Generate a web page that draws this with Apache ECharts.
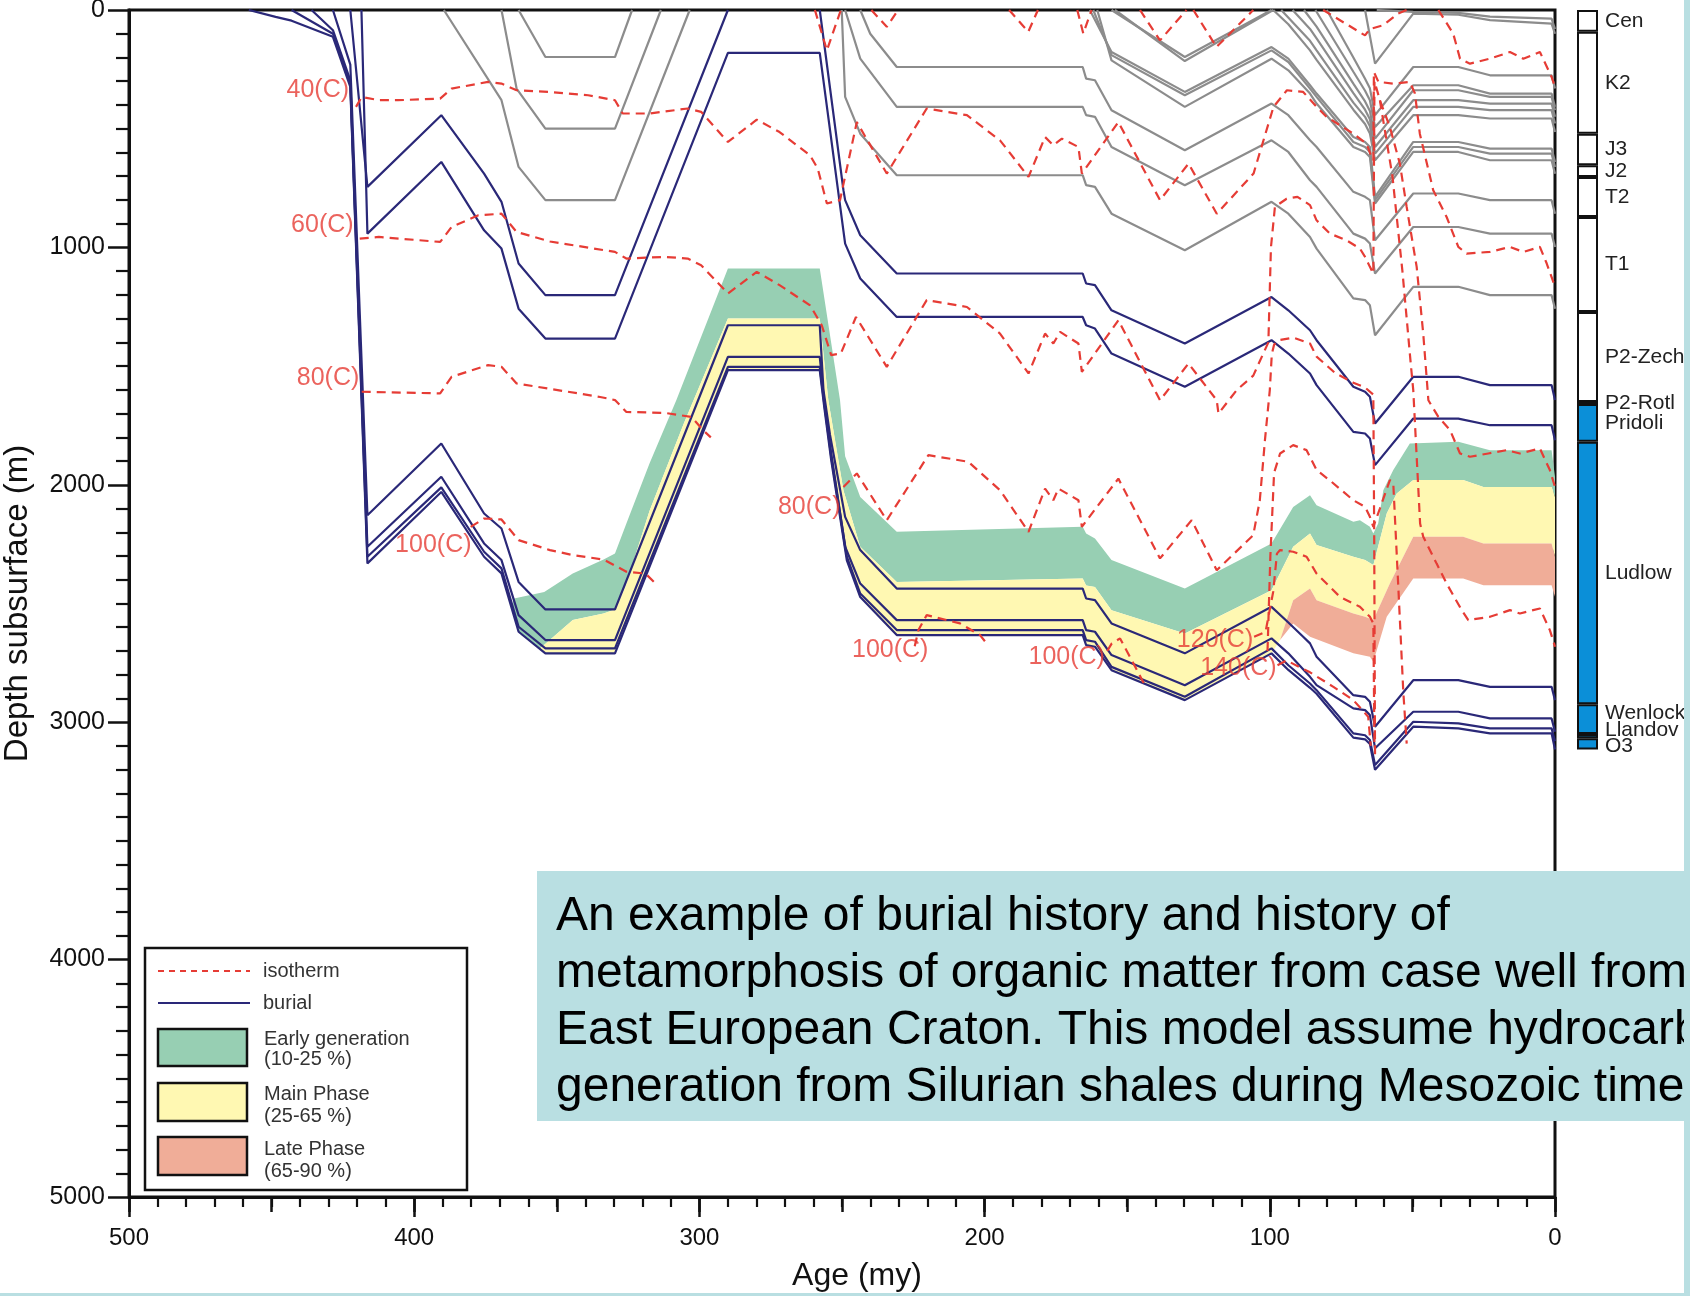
<!DOCTYPE html>
<html>
<head>
<meta charset="utf-8">
<script src="https://cdn.jsdelivr.net/npm/echarts/dist/echarts.min.js"></script>
<style>
  html, body { margin: 0; padding: 0; background: #fff; }
  #main { width: 1690px; height: 1296px; }
</style>
</head>
<body>
<div id="main"></div>
<script>
// ---- burial horizons [age (my), depth (m)] ----
var burialX1 = [[422.4,0],[416.4,745],[390.5,443],[375.5,689],[369.4,808],[363.4,1068],[354,1201],[329.6,1201],[290,0]];
var burialX2 = [[418.5,0],[416.4,942],[390.5,640],[375.5,928],[369.4,1005],[363.4,1258],[354,1384],[329.6,1384],[290,181],[257.8,181],[249.5,930],[248.9,984],[243.6,1131],[230.8,1293],[165.6,1293],[164.4,1328],[161.3,1342],[155.5,1447],[129.8,1587],[99.4,1391],[93.5,1447],[85.9,1531],[83.6,1580],[70.7,1777],[66.6,1784],[64.9,1805],[63.1,1917],[49.7,1721],[33.9,1721],[22.8,1749],[1.2,1749],[0,1812]];
var burialX3 = [[257.8,0],[249.5,759],[248.9,801],[243.6,949],[230.8,1110],[165.6,1110],[164.4,1152],[161.3,1159],[155.5,1265],[129.8,1405],[99.4,1209],[93.5,1265],[85.9,1349],[83.6,1391],[70.7,1587],[66.6,1608],[64.9,1629],[63.1,1742],[49.7,1545],[33.9,1545],[22.8,1580],[1.2,1580],[0,1643]];
var burialLudlow = [[428.5,0],[422.4,230],[416.4,2128],[390.5,1826],[375.5,2121],[369.4,2184],[363.4,2409],[354,2525],[329.6,2525],[290,1328],[257.8,1328],[256.5,1601],[254.2,1790],[248.9,2135],[243.6,2275],[230.8,2437],[165.6,2437],[164.4,2479],[161.3,2486],[155.5,2584],[129.8,2710],[99.4,2514],[93.5,2580],[88.3,2640],[85.9,2668],[83.6,2724],[70.7,2886],[66.6,2893],[64.9,2914],[63.1,3019],[49.7,2823],[33.9,2823],[22.8,2851],[1.2,2851],[0,2907]];
var burialWenlock = [[436,0],[428.5,85],[422.4,296],[416.4,2261],[390.5,1966],[375.5,2247],[369.4,2317],[363.4,2549],[354,2654],[329.6,2654],[290,1461],[257.8,1461],[256.3,1640],[254,1850],[248.9,2261],[243.6,2416],[230.8,2570],[165.6,2570],[164.4,2612],[161.3,2619],[155.5,2717],[129.8,2844],[99.4,2647],[93.5,2710],[85.9,2809],[83.6,2844],[70.7,2942],[66.6,2949],[64.9,2970],[63.1,3110],[49.7,2956],[33.9,2956],[22.8,2984],[1.2,2984],[0,3040]];
var burialLlandov = [[443,0],[428.5,100],[422.4,310],[416.4,2303],[390.5,2011],[375.5,2282],[369.4,2352],[363.4,2598],[354,2689],[329.6,2689],[290,1503],[257.8,1503],[256.2,1660],[253.8,1880],[248.3,2303],[243.6,2458],[230.8,2612],[165.6,2612],[164.4,2654],[161.3,2661],[155.5,2767],[129.8,2893],[99.4,2689],[93.5,2760],[85.9,2837],[83.6,2865],[70.7,3047],[66.6,3055],[64.9,3075],[63.1,3180],[49.7,2998],[33.9,3005],[22.8,3026],[1.2,3026],[0,3080]];
var burialO3 = [[458,0],[448.6,29],[443,45],[428.5,113],[422.4,324],[416.4,2331],[390.5,2030],[375.5,2303],[369.4,2373],[363.4,2619],[354,2710],[329.6,2710],[290,1517],[257.8,1517],[256.2,1675],[253.8,1895],[248.3,2318],[243.6,2473],[230.8,2633],[165.6,2633],[164.4,2675],[161.3,2682],[155.5,2781],[129.8,2907],[99.4,2710],[93.5,2780],[85.9,2855],[83.6,2880],[70.7,3065],[66.6,3072],[64.9,3092],[63.1,3200],[49.7,3019],[33.9,3026],[22.8,3047],[1.2,3047],[0,3115]];

// ---- eroded / younger horizons (grey) ----
var grayDev1 = [[389.6,0],[369.4,380],[363.4,661],[354,801],[329.6,801],[303.4,0]];
var grayDev2 = [[369.4,0],[364.1,331],[354,500],[329.6,500],[313.5,0]];
var grayDev3 = [[363.4,0],[354,198],[329.6,198],[323.6,0]];
var grayT1 = [[250.1,0],[248.9,366],[243.6,521],[230.8,696],[165.6,696],[164.4,738],[161.3,745],[155.5,858],[129.8,1012],[99.4,808],[93.5,858],[85.9,956],[83.6,1005],[70.7,1215],[66.6,1222],[64.9,1244],[63.1,1370],[49.7,1166],[33.9,1166],[22.8,1201],[1.2,1201],[0,1258]];
var grayT1b = [[248.9,0],[243.6,205],[230.8,408],[165.6,408],[164.4,443],[161.3,450],[155.5,577],[129.8,738],[99.4,549],[93.5,598],[85.9,717],[83.6,745],[70.7,942],[66.6,963],[64.9,984],[63.1,1110],[49.7,914],[33.9,914],[22.8,942],[1.2,942],[0,998]];
var grayT2 = [[243.6,0],[240.1,100],[230.8,240],[165.6,240],[164.4,289],[161.3,296],[155.5,422],[129.8,591],[99.4,394],[93.5,443],[85.9,549],[83.6,577],[70.7,766],[66.6,787],[64.9,801],[63.1,970],[49.7,773],[33.9,773],[22.8,801],[1.2,801],[0,858]];
var grayJ1 = [[163.1,0],[155.5,177],[129.8,345],[99.4,156],[93.5,205],[85.9,317],[83.6,352],[70.7,535],[66.6,556],[64.9,577],[63.1,787],[49.7,556],[33.9,556],[22.8,584],[1.2,584],[0,640]];
var grayJ2 = [[161.9,0],[155.5,190],[129.8,359],[99.4,170],[93.5,219],[85.9,331],[83.6,366],[70.7,556],[66.6,577],[64.9,598],[63.1,801],[49.7,577],[33.9,577],[22.8,605],[1.2,605],[0,661]];
var grayJ3 = [[160.5,0],[155.5,212],[129.8,408],[99.4,205],[93.5,254],[85.9,352],[83.6,394],[70.7,577],[66.6,598],[64.9,619],[63.1,815],[49.7,598],[33.9,598],[22.8,633],[1.2,633],[0,690]];
var grayJ4 = [[155.5,0],[129.8,198],[99.4,0]];
var grayJ5 = [[154.3,0],[129.8,215],[98.8,0]];
var grayK1 = [[98.8,0],[93.5,60],[85.9,170],[83.6,210],[70.7,420],[66.6,480],[64.9,520],[63.1,633],[49.7,443],[33.9,443],[22.8,457],[1.2,457],[0,514]];
var grayK2 = [[96,0],[85.9,130],[83.6,170],[70.7,390],[66.6,450],[64.9,490],[63.1,605],[49.7,408],[33.9,408],[22.8,422],[1.2,422],[0,478]];
var grayK3 = [[92,0],[85.9,80],[83.6,120],[70.7,350],[66.6,420],[64.9,460],[63.1,577],[49.7,380],[33.9,380],[22.8,394],[1.2,394],[0,450]];
var grayK4 = [[88,0],[83.6,70],[70.7,310],[66.6,385],[64.9,425],[63.1,542],[49.7,338],[33.9,338],[22.8,366],[1.2,366],[0,422]];
var grayK5 = [[84,0],[70.7,260],[66.6,340],[64.9,380],[63.1,493],[49.7,317],[33.9,317],[22.8,352],[1.2,352],[0,408]];
var grayK6 = [[80,0],[70.7,200],[66.6,290],[64.9,330],[63.1,443],[49.7,240],[33.9,240],[22.8,275],[1.2,275],[0,331]];
var grayCen1 = [[66.6,0],[63.1,226],[49.7,15],[33.9,20],[22.8,43],[1.2,57],[0,100]];
var grayCen2 = [[62.5,0],[49.7,8],[33.9,12],[22.8,28],[1.2,36],[0,80]];

// ---- maturity zone boundaries ----
var greenTop = [[365.4,2480],[354.4,2452],[344.4,2374],[333.6,2315],[329.6,2289],[325.6,2163],[317.5,1910],[308.1,1644],[290,1089],[257.8,1089],[250.7,1643],[248.9,1880],[243.6,2051],[230.8,2198],[165.6,2177],[164.4,2205],[161.3,2226],[155.5,2317],[129.8,2437],[99.4,2247],[91.8,2093],[85.9,2044],[83.6,2086],[70.7,2156],[68.4,2149],[64.9,2177],[63.7,2205],[62.0,2163],[60.2,2023],[56.7,1938],[50.9,1826],[33.9,1819],[22.8,1854],[1.2,1854],[0,1966]];
var yellowTop = [[356,2691],[344.4,2570],[333.6,2542],[329.6,2525],[326,2430],[317.5,2110],[305.4,1740],[290,1300],[257.8,1300],[254.8,1643],[249.5,2023],[243.6,2261],[230.8,2409],[165.6,2395],[164.4,2424],[161.3,2430],[155.5,2528],[129.8,2626],[99.4,2444],[91.8,2261],[85.9,2205],[83.6,2254],[70.7,2303],[66.6,2317],[63.7,2338],[59.0,2121],[55.5,2037],[49.7,1980],[32.2,1980],[25.1,2009],[1.2,2009],[0,2051]];
var salmonTop = [[96.4,2654],[91.8,2486],[85.9,2437],[83.6,2486],[70.7,2542],[66.6,2556],[63.7,2570],[57.9,2416],[49.7,2219],[32.2,2219],[25.1,2247],[1.2,2247],[0,2303]];
var salmonBottom = [[96.4,2654],[91.8,2584],[85.9,2640],[70.7,2710],[64.9,2724],[63.7,2745],[59.0,2556],[49.7,2395],[32.2,2395],[25.1,2423],[1.2,2423],[0,2472]];

// ---- isotherms ----
var iso20 = [
  [[259.5,0],[255.3,170],[250.4,0]],
  [[239.7,0],[234.3,71],[230.3,0]],
  [[191.4,0],[184.7,92],[181.3,0]],
  [[167.5,0],[165.4,99],[162.5,0]],
  [[145.5,0],[138.5,128],[129.2,0]],
  [[126.8,0],[118.7,156],[105.8,0]],
  [[81.3,0],[66.6,107],[64.9,80],[60.2,64],[55,15],[52,0]],
  [[40.9,0],[35.7,99],[33.3,205],[29.8,226],[22.8,205],[15.8,177],[11.1,205],[5.3,177],[1.2,282],[0,324]]
];
var iso40 = [[420.4,408],[418.4,366],[412.4,380],[405.7,380],[390.9,373],[386.9,331],[374.1,303],[369.4,310],[364.1,338],[352.7,345],[339,359],[329.6,380],[326.9,436],[317.5,436],[304.1,415],[299.4,429],[290,556],[279.9,462],[271.9,514],[261.2,612],[258.5,668],[255.3,815],[250.7,801],[244.8,472],[234.3,689],[220.3,415],[206.2,443],[194.6,549],[184.6,703],[178.8,535],[175.9,570],[172.9,542],[167.1,577],[165.9,689],[153.1,472],[138.5,801],[128.5,647],[118.6,858],[105.7,689],[98.7,408],[94.0,338],[88.3,345],[83.6,408],[80.1,450],[70.7,521],[66.1,563],[64.3,619],[63.7,633],[63.5,261],[61.9,303],[56.7,310],[50.9,303],[49.1,352],[47.4,521],[42.7,759],[38.0,872],[33.9,998],[31.0,1026],[22.8,1019],[15.8,998],[11.1,1019],[5.3,998],[2.9,1068],[0,1166]];
var iso60 = [[419.1,963],[412.4,956],[390.9,977],[386.9,914],[377.5,865],[369.4,858],[364.1,935],[352.4,975],[329.6,1019],[325.6,1047],[312.1,1040],[304.1,1047],[299.4,1075],[290,1194],[279.9,1103],[271.9,1159],[261.2,1244],[257.1,1328],[253.8,1454],[250.4,1447],[245.1,1293],[234.3,1503],[220.3,1222],[206.2,1251],[194.6,1363],[184.6,1531],[178.8,1363],[175.9,1405],[173.5,1356],[167.1,1405],[165.9,1524],[153.1,1307],[138.5,1644],[128.5,1489],[118.6,1644],[118.0,1700],[111.6,1601],[105.8,1540],[100.5,1400],[99.6,1000],[98.2,829],[94.1,795],[90.3,787],[85.9,822],[83.6,886],[78.9,942],[73.1,970],[68.4,1005],[66.6,1040],[64.9,1082],[63.7,1110],[63.3,300],[61.4,380],[57.9,493],[54.4,647],[52.0,830],[48.5,1082],[46.2,1363],[44.4,1644],[40.9,1714],[36.8,1770],[33.3,1868],[29.8,1882],[23.4,1868],[17.0,1854],[12.3,1868],[5.3,1847],[1.8,1938],[0,2009]];
var iso80 = [
  [[418.4,1608],[390.9,1615],[386.9,1545],[374.1,1496],[369.4,1503],[364.1,1573],[334.8,1630],[329.6,1643],[325.6,1693],[312.1,1697],[302.8,1714],[298.7,1770],[296,1800]],
  [[249.5,2009],[244.8,1952],[234.3,2149],[219.7,1875],[205.7,1903],[194.6,2023],[184.6,2198],[178.8,2016],[175.9,2065],[174.1,2016],[167.1,2065],[165.9,2177],[153.1,1974],[138.5,2310],[127.4,2149],[118.6,2360],[105.8,2212],[103.5,2065],[101.7,1812],[100,1601],[99.3,1450],[98.5,1410],[96.4,1390],[91.8,1380],[85.9,1405],[83.6,1460],[77,1530],[70.7,1570],[66.6,1590],[63.7,1620],[63.4,2200],[63.1,3150]]
];
var iso100 = [
  [[380.2,2177],[375.5,2142],[369.4,2146],[363.4,2233],[352.4,2275],[344.4,2296],[333.6,2315],[325.6,2366],[318.9,2374],[315,2420]],
  [[224.5,2680],[223.2,2612],[220.3,2549],[208.6,2584],[201.6,2633],[199.5,2665]],
  [[157,2700],[155.4,2668],[152.5,2647],[146.6,2780],[144,2840]],
  [[100.8,2700],[99.8,2300],[98.5,1950],[96.4,1868],[91.8,1833],[87.1,1854],[83.6,1938],[79.1,1980],[70.7,2065],[66.6,2093],[64.9,2135],[63.7,2177],[61.4,2100],[57.9,1980],[56.7,1995],[54.9,2440],[53.2,2870],[52.0,3090]]
];
var iso120 = [[105.5,2640],[101.5,2620],[98.8,2450],[97.5,2290],[96.4,2275],[91.8,2282],[87.1,2303],[83.6,2374],[75.4,2472],[68.4,2514],[64.9,2556],[63.7,2584],[63.3,3100]];
var iso140 = [[97.3,2760],[94.1,2740],[85.9,2790],[77.7,2851],[70.7,2907],[65.5,2977],[64.6,3100]];
var isoLate = [[61.4,380],[57,700],[53.5,1100],[50.5,1500],[49.7,1601],[47.3,2163],[46.2,2219],[41.5,2332],[38.0,2416],[32.7,2528],[30.4,2570],[22.8,2556],[15.8,2528],[12.3,2542],[5.3,2521],[1.8,2612],[0,2682]];

var isoLabels = [['40(C)',433.8,338],['60(C)',432.2,907],['80(C)',430.2,1552],['100(C)',393.3,2254],['80(C)',261.5,2093],['100(C)',233.1,2696],['100(C)',171.2,2724],['120(C)',119.2,2654],['140(C)',111.0,2774]];

// ---- present-day stratigraphic column ----
var columnNames = ['Cen','K2','J3','J2','T2','T1','P2-Zech','P2-Rotl','Pridoli','Ludlow','Wenlock','Llandov','O3'];
var columnThick = [92,429,133,49,169,400,379,9,159,1105,126,18,47];
var columnBlue = [false,false,false,false,false,false,false,true,true,true,true,true,true];
var columnLabelShift = [0,0,0,0,0,0,0,0,0,0,-6,-6,2];

var FONT = "'Liberation Sans', Arial, Helvetica, sans-serif";
var NAVY = '#2a2878', GREY = '#8c8c8c', RED = '#e63c35';

function depthAt(line, age) {
  for (var i = 0; i < line.length - 1; i++) {
    var a = line[i], b = line[i + 1];
    if (age <= a[0] && age >= b[0]) {
      var t = (a[0] - age) / (a[0] - b[0]);
      return a[1] + t * (b[1] - a[1]);
    }
  }
  return null;
}
function piece(line, hi, lo) {
  var out = [[hi, depthAt(line, hi)]];
  line.forEach(function (p) { if (p[0] < hi && p[0] > lo) out.push(p); });
  out.push([lo, depthAt(line, lo)]);
  return out;
}

var greenBottom = piece(burialO3, 365.4, 356).concat(yellowTop.slice(1));
var yellowBottom = piece(burialO3, 356, 99.4).concat(salmonTop);
var greenPoly = greenTop.concat(greenBottom.slice().reverse());
var yellowPoly = yellowTop.concat(yellowBottom.slice().reverse());
var salmonPoly = salmonTop.concat(salmonBottom.slice().reverse());

function zone(points, color) {
  return {
    type: 'custom', xAxisIndex: 0, yAxisIndex: 0, silent: true, z: 1,
    data: [[points[0][0], points[0][1]]],
    renderItem: function (params, api) {
      var pts = points.map(function (p) { return api.coord(p); });
      return { type: 'polygon', shape: { points: pts }, style: { fill: color } };
    }
  };
}
function line(data, color, dashed, z) {
  return {
    type: 'line', xAxisIndex: 0, yAxisIndex: 0, data: data, symbol: 'none', silent: true, z: z,
    lineStyle: { color: color, width: 2.2, type: dashed ? [9, 6] : 'solid' }
  };
}

var series = [
  zone(greenPoly, '#97cfb3'),
  zone(yellowPoly, '#fff8b2'),
  zone(salmonPoly, '#f0ad98')
];
[grayDev1, grayDev2, grayDev3, grayT1, grayT1b, grayT2, grayJ1, grayJ2, grayJ3, grayJ4, grayJ5,
 grayK1, grayK2, grayK3, grayK4, grayK5, grayK6, grayCen1, grayCen2].forEach(function (d) {
  series.push(line(d, GREY, false, 2));
});
[burialX1, burialX2, burialX3, burialLudlow, burialWenlock, burialLlandov, burialO3].forEach(function (d) {
  series.push(line(d, NAVY, false, 3));
});
var isoAll = iso20.concat([iso40, iso60], iso80, iso100, [iso120, iso140, isoLate]);
isoAll.forEach(function (d) { series.push(line(d, RED, true, 4)); });

series.push({
  type: 'scatter', xAxisIndex: 0, yAxisIndex: 0, symbolSize: 1, silent: true, z: 5,
  itemStyle: { color: 'rgba(0,0,0,0)' },
  data: isoLabels.map(function (l) { return { value: [l[1], l[2]], name: l[0] }; }),
  label: { show: true, position: 'inside', formatter: '{b}', color: RED, fontSize: 25, fontFamily: FONT }
});

columnNames.forEach(function (n, i) {
  series.push({
    type: 'bar', xAxisIndex: 2, yAxisIndex: 1, stack: 'col', barWidth: 21, silent: true,
    data: [columnThick[i]],
    itemStyle: { color: columnBlue[i] ? '#0b8fd8' : '#ffffff', borderColor: '#111', borderWidth: 2 },
    label: { show: true, position: 'right', distance: 7, formatter: n, offset: [0, columnLabelShift[i]],
             color: '#222', fontSize: 21, fontFamily: FONT }
  });
});

var hiddenAxis = {
  axisLine: { show: false, onZero: false }, axisTick: { show: false },
  minorTick: { show: false }, axisLabel: { show: false }, splitLine: { show: false }
};

var chart = echarts.init(document.getElementById('main'), null, { renderer: 'canvas' });
chart.setOption({
  animation: false,
  backgroundColor: '#ffffff',
  grid: [
    { left: 129, right: 135, top: 10, bottom: 99, show: true, borderColor: '#111', borderWidth: 3,
      containLabel: false, outerBoundsMode: 'none' },
    { left: 1576, width: 23, top: 10, bottom: 99, containLabel: false, outerBoundsMode: 'none' }
  ],
  xAxis: [
    {
      gridIndex: 0, type: 'value', min: 0, max: 500, interval: 100, inverse: true, position: 'bottom',
      name: 'Age (my)', nameLocation: 'middle', nameGap: 63,
      nameTextStyle: { fontSize: 32, color: '#111', fontFamily: FONT, padding: [0, 0, 0, 30] },
      axisLine: { show: true, onZero: false, lineStyle: { color: '#111', width: 3 } },
      axisTick: { show: true, length: 20, lineStyle: { color: '#111', width: 2.5 } },
      minorTick: { show: true, splitNumber: 10, length: 10, lineStyle: { color: '#111', width: 2.2 } },
      axisLabel: { fontSize: 24, color: '#111', margin: 29, fontFamily: FONT },
      splitLine: { show: false }
    },
    {
      gridIndex: 0, type: 'value', min: 0, max: 500, interval: 50, inverse: true, position: 'bottom',
      axisLine: { show: false, onZero: false },
      axisTick: { show: true, length: 15, lineStyle: { color: '#111', width: 2.5 } },
      minorTick: { show: false },
      axisLabel: { show: false }, splitLine: { show: false }
    },
    Object.assign({ gridIndex: 1, type: 'category', data: ['column'], show: false }, hiddenAxis)
  ],
  yAxis: [
    {
      gridIndex: 0, type: 'value', min: 0, max: 5000, interval: 1000, inverse: true, position: 'left',
      name: 'Depth subsurface (m)', nameLocation: 'middle', nameGap: 95,
      nameTextStyle: { fontSize: 33, color: '#111', fontFamily: FONT },
      axisLine: { show: true, onZero: false, lineStyle: { color: '#111', width: 3 } },
      axisTick: { show: true, length: 21, lineStyle: { color: '#111', width: 2.5 } },
      minorTick: { show: true, splitNumber: 10, length: 13, lineStyle: { color: '#111', width: 2.2 } },
      axisLabel: { fontSize: 25, color: '#111', margin: 24, fontFamily: FONT,
                   formatter: function (v) { return String(v); } },
      splitLine: { show: false }
    },
    Object.assign({ gridIndex: 1, type: 'value', min: 0, max: 5000, inverse: true, show: false }, hiddenAxis)
  ],
  series: series,
  graphic: [
    // legend
    { type: 'rect', z: 100, shape: { x: 145, y: 948, width: 322, height: 242 }, style: { fill: '#fff', stroke: '#111', lineWidth: 2.5 } },
    { type: 'line', z: 101, shape: { x1: 158, y1: 971, x2: 250, y2: 971 }, style: { stroke: RED, lineWidth: 2, lineDash: [6, 5] } },
    { type: 'text', z: 101, x: 263, y: 971, style: { text: 'isotherm', fontSize: 20, fontFamily: FONT, fill: '#333', verticalAlign: 'middle' } },
    { type: 'line', z: 101, shape: { x1: 158, y1: 1003, x2: 250, y2: 1003 }, style: { stroke: NAVY, lineWidth: 2 } },
    { type: 'text', z: 101, x: 263, y: 1003, style: { text: 'burial', fontSize: 20, fontFamily: FONT, fill: '#333', verticalAlign: 'middle' } },
    { type: 'rect', z: 101, shape: { x: 158, y: 1029, width: 89, height: 37 }, style: { fill: '#97cfb3', stroke: '#111', lineWidth: 2.5 } },
    { type: 'text', z: 101, x: 264, y: 1049, style: { text: 'Early generation\n(10-25 %)', fontSize: 20, lineHeight: 20, fontFamily: FONT, fill: '#333', verticalAlign: 'middle' } },
    { type: 'rect', z: 101, shape: { x: 158, y: 1083, width: 89, height: 38 }, style: { fill: '#fff8b2', stroke: '#111', lineWidth: 2.5 } },
    { type: 'text', z: 101, x: 264, y: 1105, style: { text: 'Main Phase\n(25-65 %)', fontSize: 20, lineHeight: 22, fontFamily: FONT, fill: '#333', verticalAlign: 'middle' } },
    { type: 'rect', z: 101, shape: { x: 158, y: 1137, width: 89, height: 38 }, style: { fill: '#f0ad98', stroke: '#111', lineWidth: 2.5 } },
    { type: 'text', z: 101, x: 264, y: 1160, style: { text: 'Late Phase\n(65-90 %)', fontSize: 20, lineHeight: 22, fontFamily: FONT, fill: '#333', verticalAlign: 'middle' } },
    // caption box
    { type: 'rect', z: 110, shape: { x: 537, y: 871, width: 1160, height: 250 }, style: { fill: '#b9dfe2' } },
    { type: 'text', z: 111, x: 556, y: 888, style: {
        text: 'An example of burial history and history of\nmetamorphosis of organic matter from case well from\nEast European Craton. This model assume hydrocarbon\ngeneration from Silurian shales during Mesozoic time.',
        fontSize: 48, lineHeight: 57, fontFamily: FONT, fill: '#000', verticalAlign: 'top' } },
    // page edge strips
    { type: 'rect', z: 120, shape: { x: 1684, y: 0, width: 6, height: 1296 }, style: { fill: '#b9dfe2' } },
    { type: 'rect', z: 120, shape: { x: 0, y: 1293, width: 1690, height: 3 }, style: { fill: '#b9dfe2' } }
  ]
});
</script>
</body>
</html>
